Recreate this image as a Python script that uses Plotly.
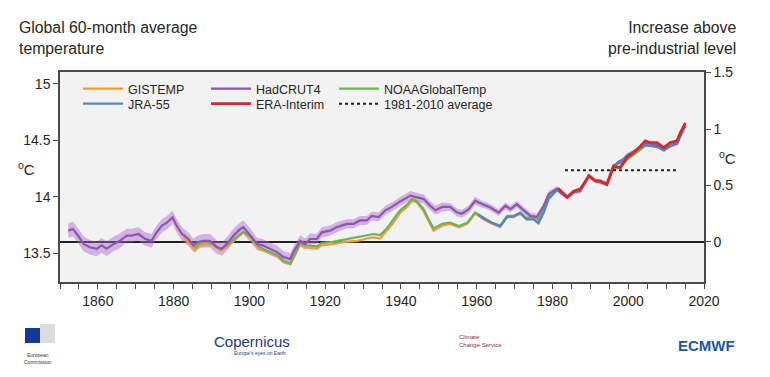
import plotly.graph_objects as go

# ---------------- data (anomaly above pre-industrial, degC) ----------------
HAD_YEARS = [1852.2, 1853.4, 1854.8, 1856.2, 1857.9, 1859.7, 1861.0, 1862.3, 1864.1, 1865.8,
             1867.6, 1868.9, 1870.7, 1872.5, 1874.2, 1875.5, 1876.9, 1878.2, 1879.7, 1880.8,
             1882.2, 1883.9, 1885.2, 1886.5, 1887.9, 1889.6, 1891.4, 1892.7, 1894.0, 1895.8,
             1897.6, 1898.4, 1900.2, 1902.0, 1903.5, 1905.5, 1907.3, 1909.0, 1910.8, 1911.6,
             1913.4, 1914.7, 1916.0, 1917.8, 1919.1, 1921.3, 1923.0, 1925.7, 1927.5, 1929.2,
             1931.0, 1932.3, 1934.1, 1935.9, 1937.6, 1939.4, 1941.1, 1942.5, 1944.2, 1946.0,
             1947.7, 1949.1, 1950.9, 1953.0, 1954.8, 1956.1, 1957.9, 1959.6, 1961.4, 1963.6,
             1965.8, 1967.6, 1968.9, 1970.6, 1972.4, 1974.2, 1975.9, 1977.7, 1979.0, 1981.2,
             1982.5, 1983.9, 1985.6, 1987.4, 1989.6, 1991.3, 1993.1, 1994.4, 1995.7, 1997.1,
             1999.7, 2001.4, 2002.8, 2004.5, 2005.8, 2007.6, 2009.4, 2011.1, 2012.9, 2013.8,
             2015.1]
HAD_VALUES = [0.10, 0.115, 0.056, -0.018, -0.047, -0.062, -0.03, -0.06, -0.02, 0.01,
              0.056, 0.056, 0.07, 0.026, 0.01, 0.085, 0.144, 0.17, 0.218, 0.144,
              0.07, 0.026, -0.03, 0.0, 0.01, 0.01, -0.047, -0.06, -0.02, 0.056,
              0.115, 0.13, 0.06, -0.018, -0.03, -0.06, -0.09, -0.135, -0.15, -0.09,
              0.01, -0.02, 0.026, 0.026, 0.085, 0.10, 0.13, 0.16, 0.16, 0.19,
              0.19, 0.23, 0.22, 0.28, 0.31, 0.35, 0.38, 0.41, 0.395, 0.38,
              0.32, 0.28, 0.31, 0.31, 0.26, 0.25, 0.29, 0.365, 0.335, 0.305,
              0.26, 0.32, 0.29, 0.335, 0.28, 0.23, 0.22, 0.32, 0.425, 0.47,
              0.425, 0.395, 0.44, 0.45, 0.585, 0.54, 0.525, 0.51, 0.63, 0.70,
              0.75, 0.79, 0.83, 0.88, 0.87, 0.86, 0.82, 0.85, 0.87, 0.94,
              1.03]
HAD_UNC = [0.065, 0.065, 0.065, 0.065, 0.065, 0.065, 0.065, 0.065, 0.065, 0.065,
           0.06, 0.06, 0.06, 0.06, 0.06, 0.06, 0.06, 0.06, 0.06, 0.06,
           0.06, 0.06, 0.06, 0.06, 0.06, 0.06, 0.06, 0.06, 0.06, 0.06,
           0.06, 0.06, 0.06, 0.055, 0.055, 0.055, 0.055, 0.055, 0.05, 0.05,
           0.05, 0.05, 0.05, 0.045, 0.045, 0.045, 0.045, 0.04, 0.04, 0.04,
           0.04, 0.04, 0.04, 0.04, 0.04, 0.04, 0.04, 0.04, 0.04, 0.04,
           0.04, 0.04, 0.04, 0.035, 0.035, 0.035, 0.035, 0.035, 0.03, 0.03,
           0.03, 0.03, 0.03, 0.03, 0.03, 0.03, 0.03, 0.025, 0.025, 0.025,
           0.02, 0.02, 0.02, 0.02, 0.02, 0.02, 0.02, 0.02, 0.02, 0.02,
           0.015, 0.015, 0.015, 0.015, 0.015, 0.015, 0.015, 0.015, 0.015, 0.015,
           0.015]

GIS_YEARS = [1882.6, 1884.3, 1885.7, 1887.0, 1888.8, 1890.5, 1892.3, 1894.0, 1895.8, 1898.4,
             1900.2, 1902.4, 1904.0, 1906.0, 1907.5, 1909.0, 1910.8, 1912.0, 1913.4, 1915.0,
             1917.8, 1919.1, 1922.0, 1925.0, 1928.5, 1931.0, 1932.8, 1934.5, 1936.3, 1938.0,
             1939.8, 1941.6, 1942.9, 1944.2, 1946.0, 1947.0, 1948.6, 1950.9, 1953.0, 1955.3,
             1957.5, 1959.6, 1961.8, 1964.0, 1966.2, 1968.0, 1969.7, 1971.5, 1973.2, 1975.0,
             1976.3, 1977.7, 1979.0, 1981.2, 1983.9, 1985.6, 1987.4, 1989.6, 1991.3, 1993.1,
             1994.4, 1996.1, 1997.9, 1999.7, 2001.4, 2002.8, 2004.5, 2005.8, 2007.6, 2009.4,
             2011.1, 2012.9, 2013.8, 2015.1]
GIS_VALUES = [0.04, -0.02, -0.077, -0.03, -0.02, -0.03, -0.077, -0.047, 0.01, 0.085,
              0.04, -0.06, -0.08, -0.11, -0.13, -0.18, -0.20, -0.12, -0.02, -0.05,
              -0.06, -0.03, -0.02, 0.0, 0.01, 0.03, 0.04, 0.03, 0.10, 0.17,
              0.26, 0.31, 0.365, 0.35, 0.27, 0.20, 0.10, 0.145, 0.16, 0.13,
              0.16, 0.25, 0.20, 0.16, 0.13, 0.22, 0.22, 0.25, 0.20, 0.22,
              0.19, 0.28, 0.395, 0.47, 0.40, 0.44, 0.46, 0.59, 0.545, 0.53,
              0.51, 0.66, 0.66, 0.74, 0.78, 0.82, 0.86, 0.86, 0.86, 0.82,
              0.86, 0.89, 0.96, 1.04]

NOAA_YEARS = GIS_YEARS
NOAA_VALUES = [0.07, 0.01, -0.05, -0.01, 0.0, -0.02, -0.06, -0.03, 0.02, 0.09,
               0.05, -0.04, -0.07, -0.10, -0.12, -0.17, -0.19, -0.11, -0.01, -0.03,
               -0.04, -0.01, 0.0, 0.02, 0.04, 0.06, 0.07, 0.06, 0.12, 0.20,
               0.28, 0.33, 0.38, 0.36, 0.29, 0.22, 0.12, 0.16, 0.17, 0.14,
               0.17, 0.26, 0.215, 0.17, 0.145, 0.23, 0.23, 0.26, 0.21, 0.23,
               0.20, 0.29, 0.40, 0.47, 0.40, 0.44, 0.46, 0.585, 0.54, 0.525,
               0.505, 0.65, 0.655, 0.73, 0.77, 0.81, 0.85, 0.85, 0.85, 0.81,
               0.85, 0.88, 0.95, 1.03]

JRA_YEARS = [1960.5, 1961.8, 1964.0, 1966.2, 1968.0, 1969.7, 1971.5, 1973.2, 1975.0, 1976.3,
             1977.7, 1979.0, 1981.2, 1983.9, 1985.6, 1987.4, 1989.6, 1991.3, 1993.1, 1994.4,
             1996.1, 1997.9, 1999.7, 2001.4, 2002.8, 2004.5, 2005.8, 2007.6, 2009.4, 2011.1,
             2012.9, 2013.8, 2015.1]
JRA_VALUES = [0.24, 0.21, 0.17, 0.14, 0.22, 0.225, 0.255, 0.20, 0.20, 0.165,
              0.26, 0.38, 0.46, 0.40, 0.44, 0.46, 0.58, 0.545, 0.53, 0.52,
              0.68, 0.70, 0.77, 0.80, 0.83, 0.86, 0.85, 0.84, 0.81, 0.85,
              0.88, 0.95, 1.03]

ERA_YEARS = [1981.5, 1983.9, 1985.6, 1987.4, 1989.6, 1991.3, 1992.6, 1994.4, 1996.1, 1997.9,
             1999.7, 2001.4, 2002.8, 2004.5, 2005.8, 2007.6, 2009.4, 2011.1, 2012.9, 2013.8,
             2015.1]
ERA_VALUES = [0.475, 0.395, 0.45, 0.47, 0.585, 0.54, 0.54, 0.51, 0.67, 0.66,
              0.75, 0.79, 0.835, 0.895, 0.88, 0.88, 0.835, 0.88, 0.895, 0.97,
              1.055]

AVG_YEARS = [1983.3, 2013.3]
AVG_VALUES = [0.635, 0.635]

PREINDUSTRIAL = 13.6  # degC, offset between the two axes
LEFT_TICKS = [13.5, 14, 14.5, 15]
LEFT_LABELS = ["13.5", "14", "14.5", "15"]
RIGHT_TICKS = [0, 0.5, 1, 1.5]
RIGHT_LABELS = ["0", "0.5", "1", "1.5"]
X_TICKS = [1860, 1880, 1900, 1920, 1940, 1960, 1980, 2000, 2020]

# ---------------- styling ----------------
FONT = "Liberation Sans, Arial, sans-serif"
TXT = "#262626"
C_GIS = "#f29b3e"
C_HAD = "#9552b0"
C_BAND = "rgba(165,105,205,0.45)"
C_NOAA = "#6cb455"
C_JRA = "#4f86c4"
C_ERA = "#d8282c"

# the page body has an 8px margin: the figure is drawn 8px smaller and everything
# is placed in reference-picture coordinates minus that offset
OFF = 8
W, H = 770 - OFF, 377 - OFF
PL, PR, PT, PB = 60, 704, 72, 282          # plot frame in reference pixels
ML, MT = PL - OFF, PT - OFF
PW, PH = PR - PL, PB - PT
MR, MB = W - ML - PW, H - MT - PH


def px(x):
    return (x - PL) / PW


def py(y):
    return (PB - y) / PH


fig = go.Figure()

band_lo = [v - u for v, u in zip(HAD_VALUES, HAD_UNC)]
band_hi = [v + u for v, u in zip(HAD_VALUES, HAD_UNC)]
fig.add_trace(go.Scatter(x=HAD_YEARS, y=band_lo, yaxis="y2", mode="lines",
                         line=dict(width=0, color=C_BAND), showlegend=False, hoverinfo="skip"))
fig.add_trace(go.Scatter(x=HAD_YEARS, y=band_hi, yaxis="y2", mode="lines", fill="tonexty",
                         fillcolor=C_BAND, line=dict(width=0, color=C_BAND),
                         showlegend=False, hoverinfo="skip"))

fig.add_trace(go.Scatter(x=GIS_YEARS, y=GIS_VALUES, yaxis="y2", mode="lines", name="GISTEMP",
                         line=dict(color=C_GIS, width=2.2), legend="legend"))
fig.add_trace(go.Scatter(x=NOAA_YEARS, y=NOAA_VALUES, yaxis="y2", mode="lines", name="NOAAGlobalTemp",
                         line=dict(color=C_NOAA, width=2.2), legend="legend3"))
fig.add_trace(go.Scatter(x=HAD_YEARS, y=HAD_VALUES, yaxis="y2", mode="lines", name="HadCRUT4",
                         line=dict(color=C_HAD, width=2.2), legend="legend2"))
fig.add_trace(go.Scatter(x=JRA_YEARS, y=JRA_VALUES, yaxis="y2", mode="lines", name="JRA-55",
                         line=dict(color=C_JRA, width=2.2), legend="legend4"))
fig.add_trace(go.Scatter(x=ERA_YEARS, y=ERA_VALUES, yaxis="y2", mode="lines", name="ERA-Interim",
                         line=dict(color=C_ERA, width=2.8), legend="legend5"))
fig.add_trace(go.Scatter(x=AVG_YEARS, y=AVG_VALUES, yaxis="y2", mode="lines", name="1981-2010 average",
                         line=dict(color="#222222", width=2, dash="dot"), legend="legend6"))

# dummy trace to activate the left axis
fig.add_trace(go.Scatter(x=[1850], y=[14], yaxis="y", mode="markers",
                         marker=dict(opacity=0), showlegend=False, hoverinfo="skip"))

left_range = [13.245, 15.105]
right_range = [left_range[0] - PREINDUSTRIAL, left_range[1] - PREINDUSTRIAL]

axis_common = dict(showline=True, linecolor="#4a4a4a", linewidth=1.5, ticks="outside",
                   ticklen=5, tickwidth=1, tickcolor="#4a4a4a", showgrid=False,
                   tickfont=dict(family=FONT, size=14, color=TXT))

fig.update_layout(
    width=W, height=H,
    margin=dict(l=ML, r=MR, t=MT, b=MB, autoexpand=False),
    paper_bgcolor="white", plot_bgcolor="#f2f2f2",
    font=dict(family=FONT, color=TXT),
    xaxis=dict(range=[1850, 2020], tickvals=X_TICKS, mirror=True, zeroline=False, tickangle=0,
               minor=dict(dtick=5, tick0=1850, ticks="outside", ticklen=5, tickcolor="#4a4a4a"),
               **axis_common),
    yaxis=dict(range=left_range, tickvals=LEFT_TICKS, ticktext=LEFT_LABELS, zeroline=False,
               **axis_common),
    yaxis2=dict(range=right_range, tickvals=RIGHT_TICKS, ticktext=RIGHT_LABELS, overlaying="y",
                side="right", zeroline=True, zerolinecolor="#222222", zerolinewidth=1.5,
                **axis_common),
)

legend_font = dict(family=FONT, size=12.5, color=TXT)
leg_pos = {
    "legend": (78, 89), "legend2": (206, 89), "legend3": (334, 89),
    "legend4": (78, 104), "legend5": (206, 104), "legend6": (334, 104),
}
for name, (lx, ly) in leg_pos.items():
    fig.update_layout({name: dict(x=(lx - OFF) / W, y=1 - (ly - OFF) / H, xref="container",
                                  yref="container", xanchor="left", yanchor="middle",
                                  bgcolor="rgba(0,0,0,0)", font=legend_font, itemwidth=40,
                                  borderwidth=0)})

ann = []
ann.append(dict(x=px(17), y=py(38), xref="paper", yref="paper", xanchor="left", yanchor="middle",
                text="Global 60-month average<br>temperature", showarrow=False, align="left",
                font=dict(family=FONT, size=15.8, color=TXT)))
ann.append(dict(x=px(738), y=py(38), xref="paper", yref="paper", xanchor="right", yanchor="middle",
                text="Increase above<br>pre-industrial level", showarrow=False, align="right",
                font=dict(family=FONT, size=15.8, color=TXT)))
ann.append(dict(x=px(26), y=py(168), xref="paper", yref="paper", xanchor="center", yanchor="middle",
                text="<sup>o</sup>C", showarrow=False, font=dict(family=FONT, size=15, color=TXT)))
ann.append(dict(x=px(727), y=py(157), xref="paper", yref="paper", xanchor="center", yanchor="middle",
                text="<sup>o</sup>C", showarrow=False, font=dict(family=FONT, size=15, color=TXT)))
# logos (approximated as text)
ann.append(dict(x=px(38), y=py(358), xref="paper", yref="paper", xanchor="center", yanchor="middle",
                text="European<br>Commission", showarrow=False, font=dict(family=FONT, size=5, color="#333")))
ann.append(dict(x=px(252), y=py(341), xref="paper", yref="paper", xanchor="center", yanchor="middle",
                text="Copernicus", showarrow=False, font=dict(family=FONT, size=15, color="#1d3c6e")))
ann.append(dict(x=px(260), y=py(353), xref="paper", yref="paper", xanchor="center", yanchor="middle",
                text="Europe's eyes on Earth", showarrow=False, font=dict(family=FONT, size=5, color="#1d3c6e")))
ann.append(dict(x=px(480), y=py(341), xref="paper", yref="paper", xanchor="center", yanchor="middle",
                text="Climate<br>Change Service", showarrow=False, align="left",
                font=dict(family=FONT, size=6, color="#8c2a40")))
ann.append(dict(x=px(706), y=py(345), xref="paper", yref="paper", xanchor="center", yanchor="middle",
                text="<b>ECMWF</b>", showarrow=False, font=dict(family=FONT, size=15, color="#1b58a4")))
fig.update_layout(annotations=ann)

fig.add_shape(type="rect", xref="paper", yref="paper", x0=px(25), x1=px(40), y0=py(343), y1=py(328),
              fillcolor="#10399a", line=dict(width=0))
fig.add_shape(type="rect", xref="paper", yref="paper", x0=px(40), x1=px(55), y0=py(343), y1=py(324),
              fillcolor="#dcdcdc", line=dict(width=0))

fig.write_html("out.html")
